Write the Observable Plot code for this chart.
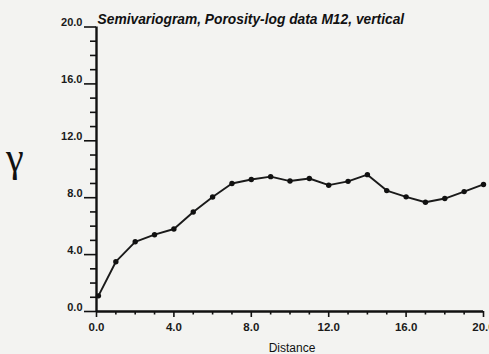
<!DOCTYPE html>
<html>
<head>
<meta charset="utf-8">
<script src="https://cdn.jsdelivr.net/npm/d3@7"></script>
<script src="https://cdn.jsdelivr.net/npm/@observablehq/plot@0.6"></script>
<style>
  html, body { margin: 0; padding: 0; background: #f3f3f1; overflow: hidden; }
  #chart { position: relative; width: 489px; height: 354px; }
  #gamma { position: absolute; left: 6px; top: 138px; line-height: 1; font-family: "Liberation Serif", "DejaVu Serif", serif; font-size: 40px; color: #111; }
</style>
</head>
<body>
<div id="chart"><div id="gamma">γ</div></div>
<script>
const title = "Semivariogram, Porosity-log data M12, vertical";
const xLabel = "Distance";
const distance = [0.1, 1, 2, 3, 4, 5, 6, 7, 8, 9, 10, 11, 12, 13, 14, 15, 16, 17, 18, 19, 20];
const gamma = [1.1, 3.5, 4.9, 5.4, 5.8, 7.0, 8.05, 9.0, 9.28, 9.48, 9.17, 9.35, 8.88, 9.15, 9.62, 8.5, 8.06, 7.68, 7.94, 8.43, 8.93];
const majorTicks = [0, 4, 8, 12, 16, 20];
const minorTicks = [1, 2, 3, 5, 6, 7, 9, 10, 11, 13, 14, 15, 17, 18, 19];

const data = distance.map((d, i) => ({distance: d, gamma: gamma[i]}));
const font = "'Liberation Sans', Arial, sans-serif";
const fmt = d => d.toFixed(1);

const plot = Plot.plot({
  width: 489,
  height: 354,
  marginLeft: 96,
  marginRight: 6,
  marginTop: 26.5,
  marginBottom: 43,
  style: {background: "transparent", fontFamily: font, color: "#111", overflow: "visible"},
  x: {type: "linear", domain: [0, 20], axis: null},
  y: {type: "linear", domain: [0, 20], axis: null},
  marks: [
    Plot.axisY({ticks: minorTicks, tickSize: 6, label: null, strokeWidth: 1.6, text: null}),
    Plot.axisY({ticks: majorTicks, tickSize: 12, label: null, strokeWidth: 1.6, text: null}),
    Plot.text(majorTicks, {x: 0, y: d => d, text: fmt, dx: -14, dy: -4.5, textAnchor: "end", fontSize: 11, fontWeight: "bold", fill: "#1a1a1a"}),
    Plot.axisX({ticks: minorTicks, tickSize: 3.5, label: null, strokeWidth: 1.6, text: null}),
    Plot.axisX({ticks: majorTicks, tickSize: 6, tickPadding: 5, tickFormat: fmt, label: null, strokeWidth: 1.6, fontSize: 11.5, fontWeight: "bold", fill: "#1a1a1a"}),
    Plot.ruleX([0], {stroke: "#111", strokeWidth: 2.4}),
    Plot.ruleY([0], {stroke: "#111", strokeWidth: 2.4}),
    Plot.line(data, {x: "distance", y: "gamma", stroke: "#1a1a1a", strokeWidth: 1.9}),
    Plot.dot(data, {x: "distance", y: "gamma", r: 2.7, fill: "#111", stroke: null}),
    Plot.text([title], {x: 0, y: 20, dx: 1, dy: -7, textAnchor: "start", fontSize: 13.8, fontWeight: "bold", fontStyle: "italic", fill: "#111"}),
    Plot.text([xLabel], {frameAnchor: "bottom", dx: 2, dy: 40, fontSize: 12, fill: "#111"})
  ]
});
document.getElementById("chart").appendChild(plot);
</script>
</body>
</html>
